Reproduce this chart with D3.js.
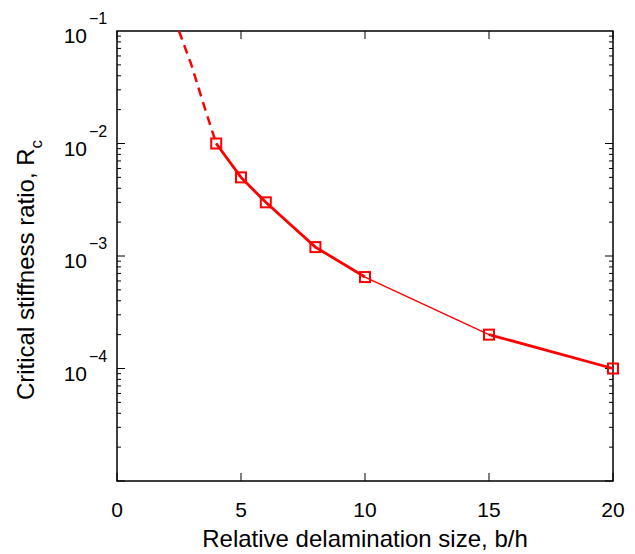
<!DOCTYPE html>
<html>
<head>
<meta charset="utf-8">
<script src="https://cdn.jsdelivr.net/npm/d3@7"></script>
<style>
  body { margin: 0; background: #fff; }
  text { font-family: "Liberation Sans", Arial, sans-serif; }
</style>
</head>
<body>
<div id="vis"></div>
<script>
// ==== DATA ====
const xTicks = [0, 5, 10, 15, 20];
const yDecades = [1e-5, 1e-4, 1e-3, 1e-2, 1e-1];
const yLabelExp = [-4, -3, -2, -1];          // decades that get a label
// extrapolated (dashed) part
const dashX = [2.5, 3, 3.5, 4];
const dashY = [0.1, 0.05, 0.022, 0.01];
// computed points
const ptX = [4, 5, 6, 8, 10, 15, 20];
const ptY = [0.01, 0.005, 0.003, 0.0012, 0.00065, 0.0002, 0.0001];
// second (thicker) trace, overlapping the first
const thickX = [[4, 5, 6, 8, 10], [15, 20]];
const thickY = [[0.01, 0.005, 0.003, 0.0012, 0.00065], [0.0002, 0.0001]];

// ==== LAYOUT ====
const width = 635, height = 554;
const m = {left: 117, top: 31, right: 22, bottom: 73};
const svg = d3.select("#vis").append("svg")
  .attr("width", width).attr("height", height);

const x = d3.scaleLinear().domain([0, 20]).range([m.left, width - m.right]);
const y = d3.scaleLog().domain([1e-5, 1e-1]).range([height - m.bottom, m.top]);

const x0 = x.range()[0], x1 = x.range()[1];
const y0 = y.range()[0], y1 = y.range()[1];

// ==== TICKS (inward, on all four sides) ====
const g = svg.append("g").attr("stroke", "#000").attr("stroke-width", 1);
xTicks.forEach(t => {
  g.append("line").attr("x1", x(t)).attr("x2", x(t)).attr("y1", y0).attr("y2", y0 - 8);
  g.append("line").attr("x1", x(t)).attr("x2", x(t)).attr("y1", y1).attr("y2", y1 + 8);
});
yDecades.slice(0, -1).forEach(d => {
  for (let k = 1; k < 10; k++) {
    const v = d * k, len = k === 1 ? 8 : 4;
    g.append("line").attr("x1", x0).attr("x2", x0 + len).attr("y1", y(v)).attr("y2", y(v));
    g.append("line").attr("x1", x1).attr("x2", x1 - len).attr("y1", y(v)).attr("y2", y(v));
  }
});

// frame
svg.append("rect")
  .attr("x", x0).attr("y", y1)
  .attr("width", x1 - x0).attr("height", y0 - y1)
  .attr("fill", "none").attr("stroke", "#000").attr("stroke-width", 1.5);

// ==== TICK LABELS ====
svg.selectAll(".xl").data(xTicks).enter().append("text")
  .attr("x", d => x(d)).attr("y", y0 + 36)
  .attr("text-anchor", "middle").style("font-size", "21px")
  .text(d => d);

yLabelExp.forEach(e => {
  svg.append("text")
    .attr("x", x0 - 30).attr("y", y(Math.pow(10, e)) + 12)
    .attr("text-anchor", "end").style("font-size", "21px").text("10");
  svg.append("text")
    .attr("x", x0 - 28).attr("y", y(Math.pow(10, e)) - 7)
    .style("font-size", "16px").text("\u2212" + Math.abs(e));
});

// ==== AXIS TITLES ====
svg.append("text")
  .attr("x", (x0 + x1) / 2).attr("y", 547)
  .attr("text-anchor", "middle").style("font-size", "24px")
  .text("Relative delamination size, b/h");

const yt = svg.append("text")
  .attr("transform", `translate(34,270) rotate(-90)`)
  .attr("text-anchor", "middle").style("font-size", "24px");
yt.append("tspan").text("Critical stiffness ratio, R");
yt.append("tspan").attr("dy", 8).style("font-size", "17px").text("c");

// ==== LINES ====
const line = d3.line().x(d => x(d[0])).y(d => y(d[1]));

svg.append("path")
  .datum(dashX.map((v, i) => [v, dashY[i]]))
  .attr("d", line).attr("fill", "none")
  .attr("stroke", "#f00").attr("stroke-width", 2.5)
  .attr("stroke-dasharray", "9,6");

svg.append("path")
  .datum(ptX.map((v, i) => [v, ptY[i]]))
  .attr("d", line).attr("fill", "none")
  .attr("stroke", "#f00").attr("stroke-width", 1.4);

thickX.forEach((xs, j) => {
  svg.append("path")
    .datum(xs.map((v, i) => [v, thickY[j][i]]))
    .attr("d", line).attr("fill", "none")
    .attr("stroke", "#f00").attr("stroke-width", 2.8);
});

// square markers
svg.selectAll(".pt").data(ptX.map((v, i) => [v, ptY[i]])).enter().append("rect")
  .attr("x", d => x(d[0]) - 5).attr("y", d => y(d[1]) - 5)
  .attr("width", 10).attr("height", 10)
  .attr("fill", "none").attr("stroke", "#f00").attr("stroke-width", 2);
</script>
</body>
</html>
